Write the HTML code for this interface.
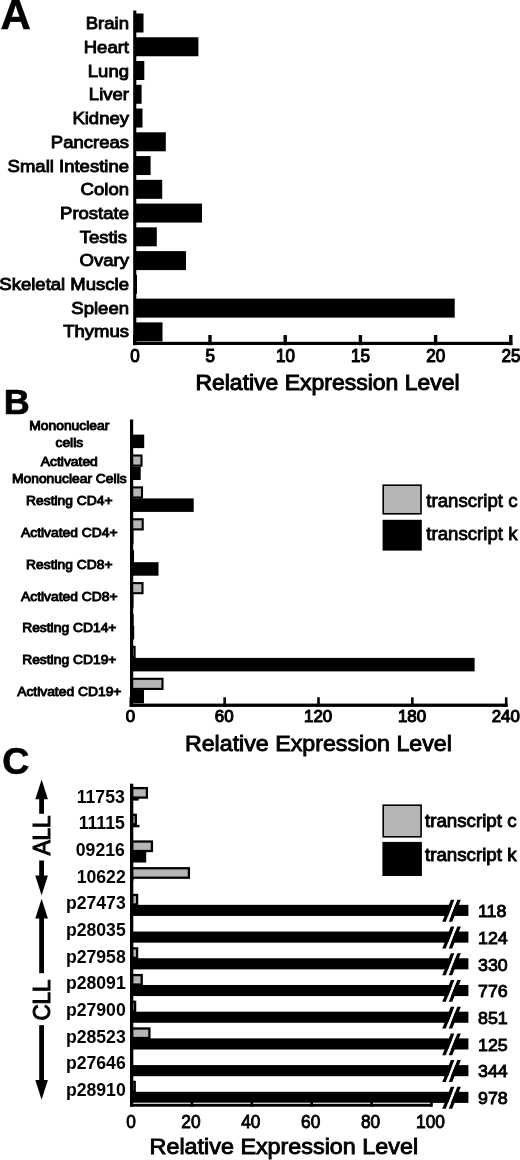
<!DOCTYPE html>
<html lang="en"><head><meta charset="utf-8"><title>Relative Expression Level</title>
<style>
html,body{margin:0;padding:0;background:#fff;}
body{width:520px;height:1160px;overflow:hidden;}
svg{display:block;font-family:"Liberation Sans", Arial, Helvetica, sans-serif;fill:#000;}
</style></head><body>
<svg width="520" height="1160" viewBox="0 0 520 1160" shape-rendering="geometricPrecision">
<rect x="0" y="0" width="520" height="1160" fill="#fff"/>
<text transform="translate(0.50,29.00) scale(0.985,1)" font-size="42.6" text-anchor="start" font-weight="bold" stroke="#000" stroke-width="0.6" >A</text>
<rect x="134.00" y="13.50" width="9.50" height="19.00" fill="#000"/>
<text transform="translate(129.00,29.30) scale(1.09,1)" font-size="17.0" text-anchor="end" font-weight="normal" stroke="#000" stroke-width="0.9" >Brain</text>
<rect x="134.00" y="37.26" width="64.40" height="19.00" fill="#000"/>
<text transform="translate(129.00,53.00) scale(1.09,1)" font-size="17.0" text-anchor="end" font-weight="normal" stroke="#000" stroke-width="0.9" >Heart</text>
<rect x="134.00" y="61.02" width="10.30" height="19.00" fill="#000"/>
<text transform="translate(129.00,76.70) scale(1.09,1)" font-size="17.0" text-anchor="end" font-weight="normal" stroke="#000" stroke-width="0.9" >Lung</text>
<rect x="134.00" y="84.78" width="7.60" height="19.00" fill="#000"/>
<text transform="translate(129.00,100.40) scale(1.09,1)" font-size="17.0" text-anchor="end" font-weight="normal" stroke="#000" stroke-width="0.9" >Liver</text>
<rect x="134.00" y="108.54" width="8.50" height="19.00" fill="#000"/>
<text transform="translate(129.00,124.10) scale(1.09,1)" font-size="17.0" text-anchor="end" font-weight="normal" stroke="#000" stroke-width="0.9" >Kidney</text>
<rect x="134.00" y="132.30" width="31.80" height="19.00" fill="#000"/>
<text transform="translate(129.00,147.80) scale(1.09,1)" font-size="17.0" text-anchor="end" font-weight="normal" stroke="#000" stroke-width="0.9" >Pancreas</text>
<rect x="134.00" y="156.06" width="16.60" height="19.00" fill="#000"/>
<text transform="translate(129.00,171.50) scale(1.09,1)" font-size="17.0" text-anchor="end" font-weight="normal" stroke="#000" stroke-width="0.9" >Small Intestine</text>
<rect x="134.00" y="179.82" width="28.20" height="19.00" fill="#000"/>
<text transform="translate(129.00,195.20) scale(1.09,1)" font-size="17.0" text-anchor="end" font-weight="normal" stroke="#000" stroke-width="0.9" >Colon</text>
<rect x="134.00" y="203.58" width="68.00" height="19.00" fill="#000"/>
<text transform="translate(129.00,218.90) scale(1.09,1)" font-size="17.0" text-anchor="end" font-weight="normal" stroke="#000" stroke-width="0.9" >Prostate</text>
<rect x="134.00" y="227.34" width="22.80" height="19.00" fill="#000"/>
<text transform="translate(127.00,242.60) scale(1.09,1)" font-size="17.0" text-anchor="end" font-weight="normal" stroke="#000" stroke-width="0.9" >Testis</text>
<rect x="134.00" y="251.10" width="52.00" height="19.00" fill="#000"/>
<text transform="translate(129.00,266.30) scale(1.09,1)" font-size="17.0" text-anchor="end" font-weight="normal" stroke="#000" stroke-width="0.9" >Ovary</text>
<rect x="134.00" y="274.86" width="3.00" height="19.00" fill="#000"/>
<text transform="translate(129.00,290.00) scale(1.09,1)" font-size="17.0" text-anchor="end" font-weight="normal" stroke="#000" stroke-width="0.9" >Skeletal Muscle</text>
<rect x="134.00" y="298.62" width="320.70" height="19.00" fill="#000"/>
<text transform="translate(129.00,313.70) scale(1.09,1)" font-size="17.0" text-anchor="end" font-weight="normal" stroke="#000" stroke-width="0.9" >Spleen</text>
<rect x="134.00" y="322.38" width="28.50" height="19.00" fill="#000"/>
<text transform="translate(129.00,337.40) scale(1.09,1)" font-size="17.0" text-anchor="end" font-weight="normal" stroke="#000" stroke-width="0.9" >Thymus</text>
<rect x="133.20" y="10.50" width="3.10" height="334.50" fill="#000"/>
<rect x="133.20" y="341.80" width="379.10" height="3.20" fill="#000"/>
<rect x="133.10" y="335.00" width="3.40" height="10.20" fill="#000"/>
<text transform="translate(135.00,362.20) scale(0.95,1)" font-size="18.0" text-anchor="middle" font-weight="normal" stroke="#000" stroke-width="1.1" >0</text>
<rect x="208.30" y="335.00" width="3.40" height="10.20" fill="#000"/>
<text transform="translate(210.20,362.20) scale(0.95,1)" font-size="18.0" text-anchor="middle" font-weight="normal" stroke="#000" stroke-width="1.1" >5</text>
<rect x="283.50" y="335.00" width="3.40" height="10.20" fill="#000"/>
<text transform="translate(285.40,362.20) scale(0.95,1)" font-size="18.0" text-anchor="middle" font-weight="normal" stroke="#000" stroke-width="1.1" >10</text>
<rect x="358.70" y="335.00" width="3.40" height="10.20" fill="#000"/>
<text transform="translate(360.60,362.20) scale(0.95,1)" font-size="18.0" text-anchor="middle" font-weight="normal" stroke="#000" stroke-width="1.1" >15</text>
<rect x="433.90" y="335.00" width="3.40" height="10.20" fill="#000"/>
<text transform="translate(435.80,362.20) scale(0.95,1)" font-size="18.0" text-anchor="middle" font-weight="normal" stroke="#000" stroke-width="1.1" >20</text>
<rect x="509.10" y="335.00" width="3.40" height="10.20" fill="#000"/>
<text transform="translate(511.00,362.20) scale(0.95,1)" font-size="18.0" text-anchor="middle" font-weight="normal" stroke="#000" stroke-width="1.1" >25</text>
<text transform="translate(195.40,390.40) scale(1.035,1)" font-size="22.2" text-anchor="start" font-weight="normal" stroke="#000" stroke-width="1.0" >Relative Expression Level</text>
<text transform="translate(3.80,413.70) scale(1.03,1)" font-size="35" text-anchor="start" font-weight="bold" stroke="#000" stroke-width="0.7" >B</text>
<text transform="translate(69.30,430.00) scale(1.1,1)" font-size="12.6" text-anchor="middle" font-weight="normal" stroke="#000" stroke-width="0.9" >Mononuclear</text>
<text transform="translate(69.30,447.00) scale(1.1,1)" font-size="12.6" text-anchor="middle" font-weight="normal" stroke="#000" stroke-width="0.9" >cells</text>
<text transform="translate(69.30,466.20) scale(1.1,1)" font-size="12.6" text-anchor="middle" font-weight="normal" stroke="#000" stroke-width="0.9" >Activated</text>
<text transform="translate(69.30,483.00) scale(1.1,1)" font-size="12.6" text-anchor="middle" font-weight="normal" stroke="#000" stroke-width="0.9" >Mononuclear Cells</text>
<text transform="translate(69.30,505.00) scale(1.1,1)" font-size="12.6" text-anchor="middle" font-weight="normal" stroke="#000" stroke-width="0.9" >Resting CD4+</text>
<text transform="translate(69.30,536.80) scale(1.1,1)" font-size="12.6" text-anchor="middle" font-weight="normal" stroke="#000" stroke-width="0.9" >Activated CD4+</text>
<text transform="translate(69.30,569.00) scale(1.1,1)" font-size="12.6" text-anchor="middle" font-weight="normal" stroke="#000" stroke-width="0.9" >Resting CD8+</text>
<text transform="translate(69.30,601.00) scale(1.1,1)" font-size="12.6" text-anchor="middle" font-weight="normal" stroke="#000" stroke-width="0.9" >Activated CD8+</text>
<text transform="translate(69.30,632.20) scale(1.1,1)" font-size="12.6" text-anchor="middle" font-weight="normal" stroke="#000" stroke-width="0.9" >Resting CD14+</text>
<text transform="translate(69.30,663.50) scale(1.1,1)" font-size="12.6" text-anchor="middle" font-weight="normal" stroke="#000" stroke-width="0.9" >Resting CD19+</text>
<text transform="translate(69.30,696.00) scale(1.1,1)" font-size="12.6" text-anchor="middle" font-weight="normal" stroke="#000" stroke-width="0.9" >Activated CD19+</text>
<rect x="132.00" y="434.60" width="12.20" height="13.50" fill="#000"/>
<rect x="132.00" y="455.50" width="9.50" height="10.10" fill="#b5b5b5" stroke="#000" stroke-width="2.1"/>
<rect x="132.00" y="466.50" width="8.70" height="13.50" fill="#000"/>
<rect x="132.00" y="487.40" width="10.00" height="10.10" fill="#b5b5b5" stroke="#000" stroke-width="2.1"/>
<rect x="132.00" y="498.40" width="61.70" height="13.50" fill="#000"/>
<rect x="132.00" y="519.30" width="10.70" height="10.10" fill="#b5b5b5" stroke="#000" stroke-width="2.1"/>
<rect x="132.00" y="530.30" width="1.50" height="13.50" fill="#000"/>
<rect x="132.00" y="551.20" width="1.00" height="10.10" fill="#b5b5b5" stroke="#000" stroke-width="2.1"/>
<rect x="132.00" y="562.20" width="26.50" height="13.50" fill="#000"/>
<rect x="132.00" y="583.10" width="10.50" height="10.10" fill="#b5b5b5" stroke="#000" stroke-width="2.1"/>
<rect x="132.00" y="594.10" width="1.50" height="13.50" fill="#000"/>
<rect x="132.00" y="615.00" width="0.60" height="10.10" fill="#b5b5b5" stroke="#000" stroke-width="2.1"/>
<rect x="132.00" y="626.00" width="2.20" height="13.50" fill="#000"/>
<rect x="132.00" y="646.90" width="2.60" height="10.10" fill="#b5b5b5" stroke="#000" stroke-width="2.1"/>
<rect x="132.00" y="657.90" width="342.60" height="13.50" fill="#000"/>
<rect x="132.00" y="678.80" width="30.50" height="10.10" fill="#b5b5b5" stroke="#000" stroke-width="2.1"/>
<rect x="132.00" y="689.80" width="12.00" height="13.50" fill="#000"/>
<rect x="130.00" y="419.50" width="3.20" height="287.40" fill="#000"/>
<rect x="130.00" y="703.60" width="377.60" height="3.30" fill="#000"/>
<rect x="129.50" y="697.30" width="2.60" height="9.60" fill="#000"/>
<text transform="translate(130.40,722.40) scale(0.97,1)" font-size="17.4" text-anchor="middle" font-weight="normal" stroke="#000" stroke-width="1.1" >0</text>
<rect x="223.35" y="697.30" width="2.60" height="9.60" fill="#000"/>
<text transform="translate(224.25,722.40) scale(0.97,1)" font-size="17.4" text-anchor="middle" font-weight="normal" stroke="#000" stroke-width="1.1" >60</text>
<rect x="317.20" y="697.30" width="2.60" height="9.60" fill="#000"/>
<text transform="translate(318.10,722.40) scale(0.97,1)" font-size="17.4" text-anchor="middle" font-weight="normal" stroke="#000" stroke-width="1.1" >120</text>
<rect x="411.05" y="697.30" width="2.60" height="9.60" fill="#000"/>
<text transform="translate(411.95,722.40) scale(0.97,1)" font-size="17.4" text-anchor="middle" font-weight="normal" stroke="#000" stroke-width="1.1" >180</text>
<rect x="504.90" y="697.30" width="2.60" height="9.60" fill="#000"/>
<text transform="translate(505.80,722.40) scale(0.97,1)" font-size="17.4" text-anchor="middle" font-weight="normal" stroke="#000" stroke-width="1.1" >240</text>
<text transform="translate(184.90,751.20) scale(1.046,1)" font-size="22.2" text-anchor="start" font-weight="normal" stroke="#000" stroke-width="0.9" >Relative Expression Level</text>
<rect x="383.20" y="485.20" width="37.80" height="28.60" fill="#b5b5b5" stroke="#000" stroke-width="1.6"/>
<rect x="382.60" y="519.80" width="39.20" height="30.80" fill="#000"/>
<text transform="translate(426.30,507.00) scale(1.02,1)" font-size="18.3" text-anchor="start" font-weight="normal" stroke="#000" stroke-width="0.8" >transcript c</text>
<text transform="translate(426.30,539.60) scale(1.02,1)" font-size="18.3" text-anchor="start" font-weight="normal" stroke="#000" stroke-width="0.8" >transcript k</text>
<text transform="translate(2.30,774.00) scale(1.0,1)" font-size="37.5" text-anchor="start" font-weight="bold" stroke="#000" stroke-width="0.6" >C</text>
<text transform="translate(124.80,802.50) scale(0.97,1)" font-size="18.2" text-anchor="end" font-weight="bold" >11753</text>
<rect x="132.00" y="788.10" width="14.90" height="9.50" fill="#b5b5b5" stroke="#000" stroke-width="2.3"/>
<rect x="132.00" y="798.10" width="6.70" height="2.50" fill="#000"/>
<text transform="translate(124.80,829.18) scale(0.97,1)" font-size="18.2" text-anchor="end" font-weight="bold" >11115</text>
<rect x="132.00" y="814.81" width="3.80" height="9.50" fill="#b5b5b5" stroke="#000" stroke-width="2.3"/>
<rect x="132.00" y="824.81" width="7.50" height="2.50" fill="#000"/>
<text transform="translate(124.80,855.86) scale(0.97,1)" font-size="18.2" text-anchor="end" font-weight="bold" >09216</text>
<rect x="132.00" y="841.52" width="19.90" height="9.50" fill="#b5b5b5" stroke="#000" stroke-width="2.3"/>
<rect x="132.00" y="851.52" width="14.20" height="11.00" fill="#000"/>
<text transform="translate(125.70,882.54) scale(0.97,1)" font-size="18.2" text-anchor="end" font-weight="bold" >10622</text>
<rect x="132.00" y="868.23" width="56.90" height="9.50" fill="#b5b5b5" stroke="#000" stroke-width="2.3"/>
<rect x="132.00" y="878.23" width="1.50" height="2.50" fill="#000"/>
<text transform="translate(125.70,909.22) scale(0.97,1)" font-size="18.2" text-anchor="end" font-weight="bold" >p27473</text>
<rect x="132.00" y="894.94" width="5.10" height="9.50" fill="#b5b5b5" stroke="#000" stroke-width="2.3"/>
<rect x="132.00" y="904.84" width="336.40" height="11.10" fill="#000"/>
<polygon points="454.35,899.84 457.35,899.84 448.74,921.74 445.74,921.74" fill="#fff"/>
<polygon points="450.85,899.84 454.35,899.84 445.74,921.74 442.24,921.74" fill="#000"/>
<polygon points="457.35,899.84 460.85,899.84 452.24,921.74 448.74,921.74" fill="#000"/>
<text transform="translate(478.00,917.32) scale(1.03,1)" font-size="17.3" text-anchor="start" font-weight="normal" stroke="#000" stroke-width="0.9" >118</text>
<text transform="translate(125.70,935.90) scale(0.97,1)" font-size="18.2" text-anchor="end" font-weight="bold" >p28035</text>
<rect x="132.00" y="931.55" width="336.40" height="11.10" fill="#000"/>
<polygon points="454.35,926.55 457.35,926.55 448.74,948.45 445.74,948.45" fill="#fff"/>
<polygon points="450.85,926.55 454.35,926.55 445.74,948.45 442.24,948.45" fill="#000"/>
<polygon points="457.35,926.55 460.85,926.55 452.24,948.45 448.74,948.45" fill="#000"/>
<text transform="translate(478.00,944.00) scale(1.03,1)" font-size="17.3" text-anchor="start" font-weight="normal" stroke="#000" stroke-width="0.9" >124</text>
<text transform="translate(125.70,962.58) scale(0.97,1)" font-size="18.2" text-anchor="end" font-weight="bold" >p27958</text>
<rect x="132.00" y="948.36" width="5.10" height="9.50" fill="#b5b5b5" stroke="#000" stroke-width="2.3"/>
<rect x="132.00" y="958.26" width="336.40" height="11.10" fill="#000"/>
<polygon points="454.35,953.26 457.35,953.26 448.74,975.16 445.74,975.16" fill="#fff"/>
<polygon points="450.85,953.26 454.35,953.26 445.74,975.16 442.24,975.16" fill="#000"/>
<polygon points="457.35,953.26 460.85,953.26 452.24,975.16 448.74,975.16" fill="#000"/>
<text transform="translate(478.00,970.68) scale(1.03,1)" font-size="17.3" text-anchor="start" font-weight="normal" stroke="#000" stroke-width="0.9" >330</text>
<text transform="translate(125.70,989.26) scale(0.97,1)" font-size="18.2" text-anchor="end" font-weight="bold" >p28091</text>
<rect x="132.00" y="975.07" width="9.70" height="9.50" fill="#b5b5b5" stroke="#000" stroke-width="2.3"/>
<rect x="132.00" y="984.97" width="336.40" height="11.10" fill="#000"/>
<polygon points="454.35,979.97 457.35,979.97 448.74,1001.87 445.74,1001.87" fill="#fff"/>
<polygon points="450.85,979.97 454.35,979.97 445.74,1001.87 442.24,1001.87" fill="#000"/>
<polygon points="457.35,979.97 460.85,979.97 452.24,1001.87 448.74,1001.87" fill="#000"/>
<text transform="translate(478.00,997.36) scale(1.03,1)" font-size="17.3" text-anchor="start" font-weight="normal" stroke="#000" stroke-width="0.9" >776</text>
<text transform="translate(125.70,1015.94) scale(0.97,1)" font-size="18.2" text-anchor="end" font-weight="bold" >p27900</text>
<rect x="132.00" y="1001.78" width="3.10" height="9.50" fill="#b5b5b5" stroke="#000" stroke-width="2.3"/>
<rect x="132.00" y="1011.68" width="336.40" height="11.10" fill="#000"/>
<polygon points="454.35,1006.68 457.35,1006.68 448.74,1028.58 445.74,1028.58" fill="#fff"/>
<polygon points="450.85,1006.68 454.35,1006.68 445.74,1028.58 442.24,1028.58" fill="#000"/>
<polygon points="457.35,1006.68 460.85,1006.68 452.24,1028.58 448.74,1028.58" fill="#000"/>
<text transform="translate(478.00,1024.04) scale(1.03,1)" font-size="17.3" text-anchor="start" font-weight="normal" stroke="#000" stroke-width="0.9" >851</text>
<text transform="translate(125.70,1042.62) scale(0.97,1)" font-size="18.2" text-anchor="end" font-weight="bold" >p28523</text>
<rect x="132.00" y="1028.49" width="17.40" height="9.50" fill="#b5b5b5" stroke="#000" stroke-width="2.3"/>
<rect x="132.00" y="1038.39" width="336.40" height="11.10" fill="#000"/>
<polygon points="454.35,1033.39 457.35,1033.39 448.74,1055.29 445.74,1055.29" fill="#fff"/>
<polygon points="450.85,1033.39 454.35,1033.39 445.74,1055.29 442.24,1055.29" fill="#000"/>
<polygon points="457.35,1033.39 460.85,1033.39 452.24,1055.29 448.74,1055.29" fill="#000"/>
<text transform="translate(478.00,1050.72) scale(1.03,1)" font-size="17.3" text-anchor="start" font-weight="normal" stroke="#000" stroke-width="0.9" >125</text>
<text transform="translate(125.70,1069.30) scale(0.97,1)" font-size="18.2" text-anchor="end" font-weight="bold" >p27646</text>
<rect x="132.00" y="1065.10" width="336.40" height="11.10" fill="#000"/>
<polygon points="454.35,1060.10 457.35,1060.10 448.74,1082.00 445.74,1082.00" fill="#fff"/>
<polygon points="450.85,1060.10 454.35,1060.10 445.74,1082.00 442.24,1082.00" fill="#000"/>
<polygon points="457.35,1060.10 460.85,1060.10 452.24,1082.00 448.74,1082.00" fill="#000"/>
<text transform="translate(478.00,1077.40) scale(1.03,1)" font-size="17.3" text-anchor="start" font-weight="normal" stroke="#000" stroke-width="0.9" >344</text>
<text transform="translate(125.70,1095.98) scale(0.97,1)" font-size="18.2" text-anchor="end" font-weight="bold" >p28910</text>
<rect x="132.00" y="1081.91" width="2.70" height="9.50" fill="#b5b5b5" stroke="#000" stroke-width="2.3"/>
<rect x="132.00" y="1091.81" width="336.40" height="11.10" fill="#000"/>
<polygon points="454.35,1086.81 457.35,1086.81 448.74,1108.71 445.74,1108.71" fill="#fff"/>
<polygon points="450.85,1086.81 454.35,1086.81 445.74,1108.71 442.24,1108.71" fill="#000"/>
<polygon points="457.35,1086.81 460.85,1086.81 452.24,1108.71 448.74,1108.71" fill="#000"/>
<text transform="translate(478.00,1104.08) scale(1.03,1)" font-size="17.3" text-anchor="start" font-weight="normal" stroke="#000" stroke-width="0.9" >978</text>
<rect x="130.00" y="783.70" width="3.30" height="323.00" fill="#000"/>
<rect x="130.00" y="1103.90" width="302.00" height="2.80" fill="#000"/>
<rect x="133.30" y="1102.70" width="298.70" height="1.20" fill="#c8c8c8"/>
<text transform="translate(131.00,1127.80) scale(0.95,1)" font-size="18.2" text-anchor="middle" font-weight="normal" stroke="#000" stroke-width="0.9" >0</text>
<rect x="190.60" y="1100.00" width="2.60" height="6.70" fill="#000"/>
<text transform="translate(190.90,1127.80) scale(0.95,1)" font-size="18.2" text-anchor="middle" font-weight="normal" stroke="#000" stroke-width="0.9" >20</text>
<rect x="250.50" y="1100.00" width="2.60" height="6.70" fill="#000"/>
<text transform="translate(250.80,1127.80) scale(0.95,1)" font-size="18.2" text-anchor="middle" font-weight="normal" stroke="#000" stroke-width="0.9" >40</text>
<rect x="310.40" y="1100.00" width="2.60" height="6.70" fill="#000"/>
<text transform="translate(310.70,1127.80) scale(0.95,1)" font-size="18.2" text-anchor="middle" font-weight="normal" stroke="#000" stroke-width="0.9" >60</text>
<rect x="370.30" y="1100.00" width="2.60" height="6.70" fill="#000"/>
<text transform="translate(370.60,1127.80) scale(0.95,1)" font-size="18.2" text-anchor="middle" font-weight="normal" stroke="#000" stroke-width="0.9" >80</text>
<rect x="430.20" y="1100.00" width="2.60" height="6.70" fill="#000"/>
<text transform="translate(430.50,1127.80) scale(0.95,1)" font-size="18.2" text-anchor="middle" font-weight="normal" stroke="#000" stroke-width="0.9" >100</text>
<text transform="translate(149.60,1154.40) scale(1.052,1)" font-size="22.2" text-anchor="start" font-weight="normal" stroke="#000" stroke-width="0.9" >Relative Expression Level</text>
<rect x="383.20" y="805.20" width="37.90" height="31.60" fill="#b5b5b5" stroke="#000" stroke-width="1.6"/>
<rect x="382.40" y="841.90" width="39.50" height="34.10" fill="#000"/>
<text transform="translate(425.00,827.20) scale(1.012,1)" font-size="18.5" text-anchor="start" font-weight="normal" stroke="#000" stroke-width="0.9" >transcript c</text>
<text transform="translate(425.00,861.20) scale(1.012,1)" font-size="18.5" text-anchor="start" font-weight="normal" stroke="#000" stroke-width="0.9" >transcript k</text>
<polygon points="41.6,779.4 47.9,799.1999999999999 35.300000000000004,799.1999999999999" fill="#000"/>
<rect x="39.20" y="798.00" width="4.80" height="15.80" fill="#000"/>
<rect x="39.20" y="860.50" width="4.80" height="15.50" fill="#000"/>
<polygon points="41.6,895.4 47.9,875.6 35.300000000000004,875.6" fill="#000"/>
<text transform="translate(50.1,835.4) rotate(-90) scale(0.96,1)" font-size="23.4" text-anchor="middle" stroke="#000" stroke-width="1.0">ALL</text>
<polygon points="41.6,898.8 47.9,918.5999999999999 35.300000000000004,918.5999999999999" fill="#000"/>
<rect x="39.20" y="917.00" width="4.80" height="56.20" fill="#000"/>
<text transform="translate(50.1,1000) rotate(-90) scale(0.96,1)" font-size="23.4" text-anchor="middle" stroke="#000" stroke-width="1.0">CLL</text>
<rect x="39.20" y="1025.20" width="4.80" height="55.80" fill="#000"/>
<polygon points="41.6,1099.8 47.9,1080.0 35.300000000000004,1080.0" fill="#000"/>
</svg>
</body></html>
